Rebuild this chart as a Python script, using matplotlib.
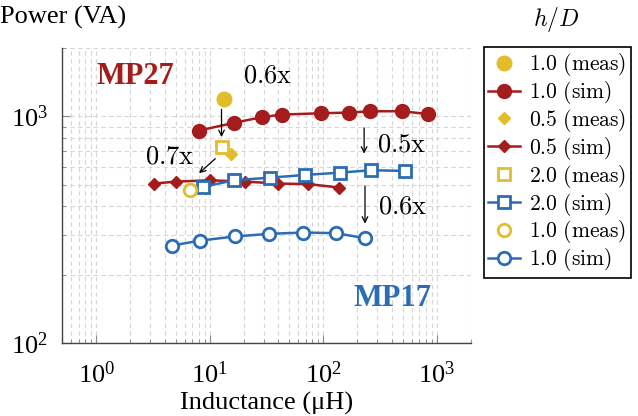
import matplotlib
matplotlib.use('Agg')
import matplotlib.pyplot as plt

plt.rcParams['mathtext.fontset'] = 'cm'
plt.rcParams['font.family'] = ['Liberation Serif', 'DejaVu Serif']

red = '#a51c1c'
blue = '#2b6cb4'
yellow = '#e2bd2b'

# MP27, h/D = 1.0
mp27_10_sim_L = [8.05, 16.3, 28.6, 43, 95.5, 167, 258, 492, 834]
mp27_10_sim_P = [865, 935, 990, 1017, 1031, 1038, 1052, 1052, 1023]
mp27_10_meas_L = [13.3]
mp27_10_meas_P = [1191]

# MP27, h/D = 0.5
mp27_05_sim_L = [3.22, 5.08, 10, 20.5, 40, 73.7, 138]
mp27_05_sim_P = [505, 515, 522, 515, 505, 502, 485]
mp27_05_meas_L = [15.5]
mp27_05_meas_P = [683]

# MP17, h/D = 2.0
mp17_20_sim_L = [8.73, 16.3, 33.9, 68.9, 140, 262, 526]
mp17_20_sim_P = [488, 522, 536, 551, 564, 578, 574]
mp17_20_meas_L = [12.7]
mp17_20_meas_P = [731]

# MP17, h/D = 1.0
mp17_10_sim_L = [4.65, 8.28, 16.6, 33.4, 66.6, 129.5, 233]
mp17_10_sim_P = [269, 283, 295, 303, 307, 305, 290]
mp17_10_meas_L = [6.76]
mp17_10_meas_P = [473]

fig = plt.figure(figsize=(6.38, 4.16), dpi=100)
ax = fig.add_axes([62/638, 1-343/416, (471-62)/638, (343-48)/416])

lw = 1.8
ax.plot(mp27_10_meas_L, mp27_10_meas_P, 'o', color=yellow, ms=10.5, ls='none', label=r'$\mathrm{1.0\ (meas)}$')
ax.plot(mp27_10_sim_L, mp27_10_sim_P, 'o-', color=red, ms=10, lw=lw, label=r'$\mathrm{1.0\ (sim)}$')
ax.plot(mp27_05_meas_L, mp27_05_meas_P, 'D', color=yellow, ms=6.5, ls='none', label=r'$\mathrm{0.5\ (meas)}$')
ax.plot(mp27_05_sim_L, mp27_05_sim_P, 'D-', color=red, ms=6.5, lw=lw, label=r'$\mathrm{0.5\ (sim)}$')
ax.plot(mp17_20_meas_L, mp17_20_meas_P, 's', color=yellow, mfc='white', mew=2, ms=8.5, ls='none', label=r'$\mathrm{2.0\ (meas)}$')
ax.plot(mp17_20_sim_L, mp17_20_sim_P, 's-', color=blue, mfc='white', mew=2, ms=8.5, lw=lw, label=r'$\mathrm{2.0\ (sim)}$')
ax.plot(mp17_10_meas_L, mp17_10_meas_P, 'o', color=yellow, mfc='white', mew=2, ms=9, ls='none', label=r'$\mathrm{1.0\ (meas)}$')
ax.plot(mp17_10_sim_L, mp17_10_sim_P, 'o-', color=blue, mfc='white', mew=2, ms=9, lw=lw, label=r'$\mathrm{1.0\ (sim)}$')

ax.set_xscale('log')
ax.set_yscale('log')
ax.set_xlim(0.5, 2000)
ax.set_ylim(100, 2000)

ax.grid(True, which='both', ls=(0, (4, 3)), color='#d6d6d6', lw=0.8)
ax.set_axisbelow(True)
for s in ['top', 'right']:
    ax.spines[s].set_visible(False)
for s in ['left', 'bottom']:
    ax.spines[s].set_color('#444444')
    ax.spines[s].set_linewidth(1.0)
ax.tick_params(which='both', direction='in', color='#888888')
ax.tick_params(which='major', length=6, labelsize=19)
ax.tick_params(axis='x', which='major', pad=13)
ax.tick_params(axis='y', which='major', pad=10)
ax.tick_params(which='minor', length=3)
ax.yaxis.set_minor_formatter(matplotlib.ticker.NullFormatter())

ax.set_xlabel('Inductance (μH)', fontsize=19, labelpad=3)
fig.text(0.0, 1-17/416, 'Power (VA)', fontsize=19, va='center', ha='left')

ax.text(97/638, 1-77/416, 'MP27', transform=fig.transFigure, fontsize=22, fontweight='bold', color=red, va='center')
ax.text(354/638, 1-299/416, 'MP17', transform=fig.transFigure, fontsize=22, fontweight='bold', color=blue, va='center')

arr = dict(arrowstyle='->', color='black', lw=0.9, shrinkA=0, shrinkB=0)
ax.annotate('', xy=(12.7, 809), xytext=(12.7, 1074), arrowprops=arr)
ax.text(19.6, 1496, r'$\mathrm{0.6x}$', fontsize=19, va='center', ha='left')
ax.annotate('', xy=(8.05, 561), xytext=(11.2, 650), arrowprops=arr)
ax.text(2.67, 655, r'$\mathrm{0.7x}$', fontsize=19, va='center', ha='left')
ax.annotate('', xy=(229, 684), xytext=(229, 889), arrowprops=arr)
ax.text(298, 746, r'$\mathrm{0.5x}$', fontsize=19, va='center', ha='left')
ax.annotate('', xy=(233, 336), xytext=(233, 493), arrowprops=arr)
ax.text(304, 394, r'$\mathrm{0.6x}$', fontsize=19, va='center', ha='left')

leg = fig.legend(loc='upper left', bbox_to_anchor=(484/638, 1-47/416), fontsize=15.5,
                 frameon=True, fancybox=False, edgecolor='black', framealpha=1,
                 handlelength=1.45, labelspacing=0.04, borderpad=0.2, handletextpad=0.45,
                 borderaxespad=0)
leg.get_frame().set_linewidth(1.2)
fig.text(556/638, 1-20/416, r'$h/D$', fontsize=17, ha='center', va='center')

fig.savefig('out.png', dpi=100)
